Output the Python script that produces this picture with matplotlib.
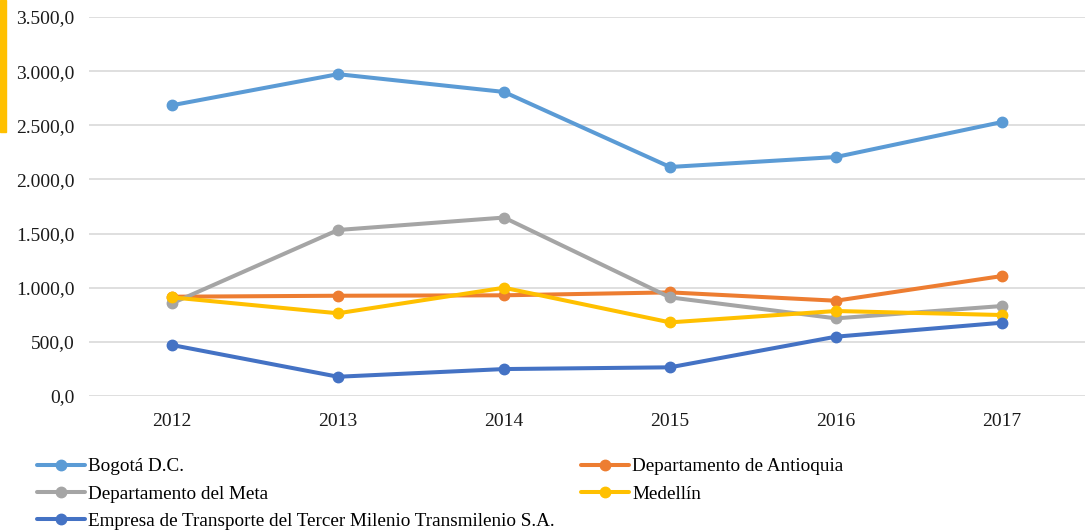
import matplotlib
matplotlib.use("Agg")
import matplotlib.pyplot as plt
from matplotlib.patches import Rectangle
from matplotlib.ticker import FuncFormatter

years = ["2012", "2013", "2014", "2015", "2016", "2017"]
bogota = [2685, 2972, 2808, 2115, 2207, 2530]
antioquia = [917, 926, 930, 957, 880, 1108]
meta = [856, 1533, 1648, 911, 717, 831]
medellin = [911, 764, 1000, 680, 785, 748]
transmilenio = [471, 178, 249, 265, 548, 677]

series = [
    ("Bogotá D.C.", bogota, "#5B9BD5"),
    ("Departamento de Antioquia", antioquia, "#ED7D31"),
    ("Departamento del Meta", meta, "#A5A5A5"),
    ("Medellín", medellin, "#FFC000"),
    ("Empresa de Transporte del Tercer Milenio Transmilenio S.A.", transmilenio, "#4472C4"),
]

plt.rcParams['font.family'] = ['Liberation Serif', 'DejaVu Serif']

fig = plt.figure(figsize=(10.88, 5.31), dpi=100)
ax = fig.add_axes([0.0818, 0.2542, 0.9154, 0.7138])

x = list(range(len(years)))
handles = {}
for name, vals, col in series:
    h, = ax.plot(x, vals, color=col, lw=2.9, marker="o", ms=7.5, label=name,
                 solid_capstyle="round")
    handles[name] = h

ax.set_xlim(-0.5, len(years) - 0.5)
ax.set_ylim(0, 3500)
ax.set_yticks(range(0, 3501, 500))
ax.yaxis.set_major_formatter(FuncFormatter(lambda v, p: f"{v:,.1f}".replace(",", "X").replace(".", ",").replace("X", ".")))
ax.set_xticks(x)
ax.set_xticklabels(years)
ax.tick_params(length=0, labelsize=14, colors="#1a1a1a")
ax.tick_params(axis="x", pad=12)
ax.tick_params(axis="y", pad=10.5)
ax.grid(axis="y", color="#D9D9D9", lw=1.2)
ax.set_axisbelow(True)
for s in ax.spines.values():
    s.set_visible(False)

# yellow mark at left edge
fig.patches.append(Rectangle((0, 1 - 132 / 531), 6 / 1088, 132 / 531,
                             transform=fig.transFigure, color="#FFC000", zorder=0))

order = ["Bogotá D.C.", "Departamento del Meta",
         "Empresa de Transporte del Tercer Milenio Transmilenio S.A.",
         "Departamento de Antioquia", "Medellín"]
fig.legend([handles[n] for n in order], order, ncol=2, loc="upper left",
           bbox_to_anchor=(0.027, 0.152), frameon=False, fontsize=13.8,
           handlelength=2.5, handletextpad=0.15, labelspacing=0.52,
           columnspacing=1.4, borderaxespad=0)

fig.savefig("out.png", dpi=100)
